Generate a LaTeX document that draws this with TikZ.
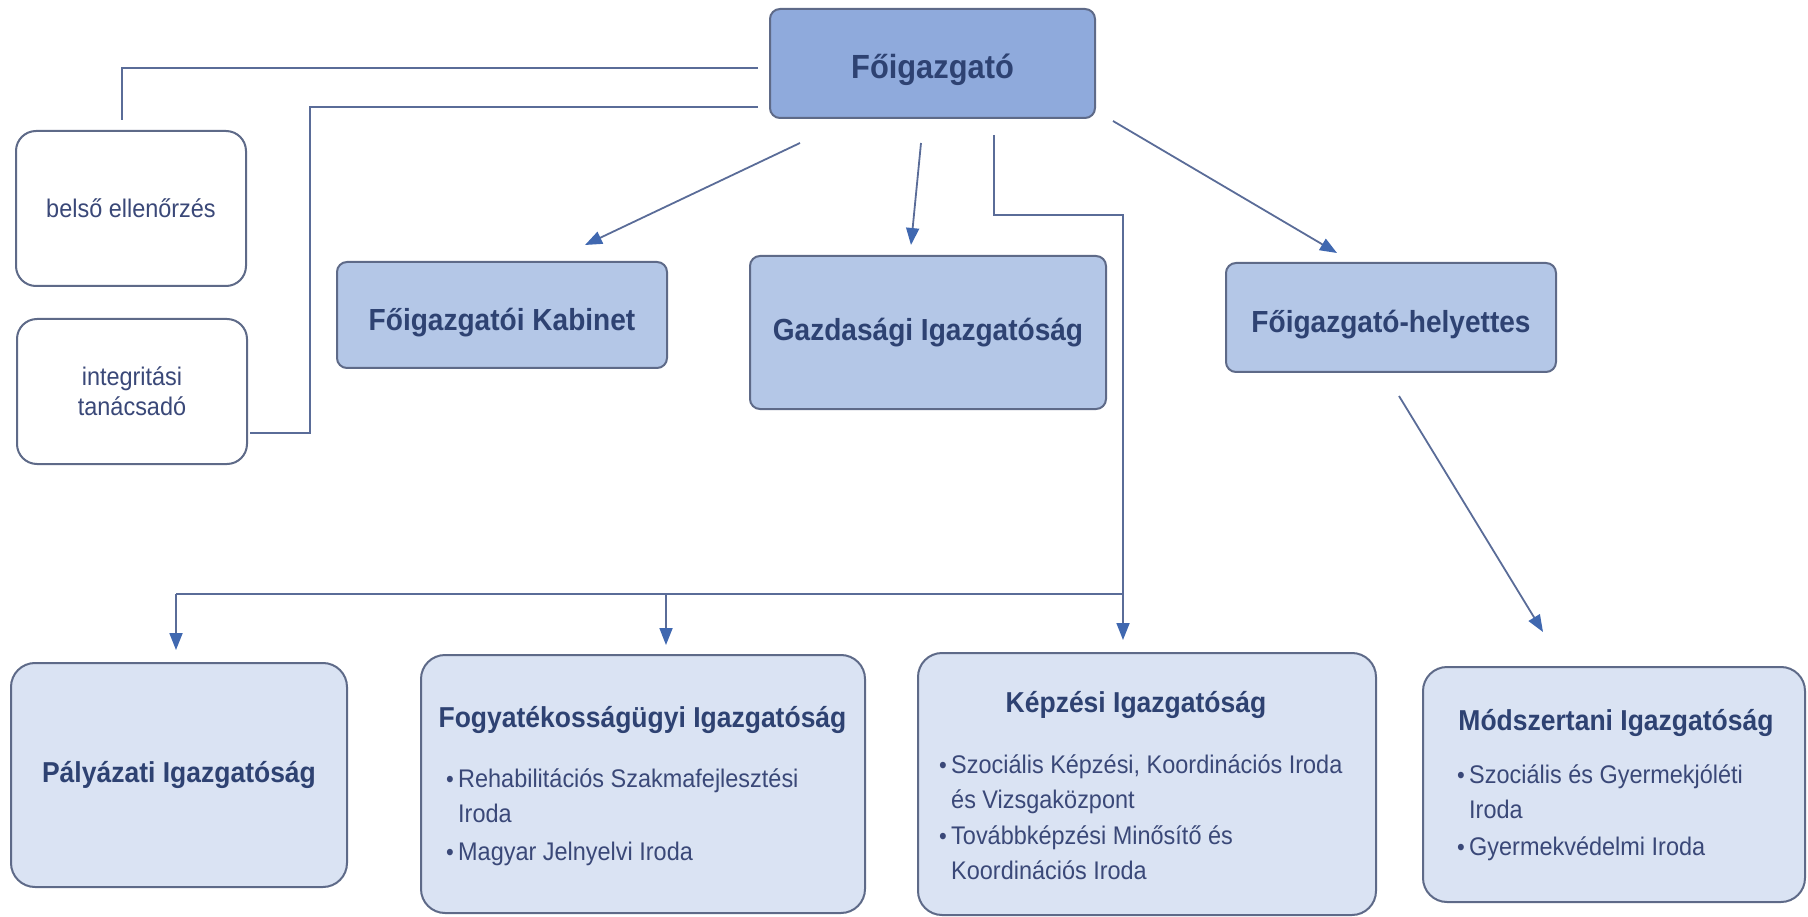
\documentclass[tikz,border=0pt]{standalone}
\usepackage{fontspec}
\setmainfont[FakeStretch=0.92]{Liberation Sans}
\usetikzlibrary{arrows.meta}
\definecolor{topfill}{HTML}{8FAADC}
\definecolor{midfill}{HTML}{B4C7E7}
\definecolor{botfill}{HTML}{DAE3F3}
\definecolor{bordercol}{HTML}{5E6A88}
\definecolor{txt}{HTML}{2E4272}
\definecolor{txtreg}{HTML}{3A4878}
\definecolor{linecol}{HTML}{5A6C98}
\definecolor{tipcol}{HTML}{4068B0}
\tikzset{
  box/.style={draw=bordercol, line width=2pt, inner sep=0pt, text=txt, font=\bfseries\fontsize{30.5}{34}\selectfont},
  topbox/.style={box, fill=topfill, rounded corners=10pt},
  midbox/.style={box, fill=midfill, rounded corners=10pt},
  botbox/.style={box, fill=botfill, rounded corners=24pt, font=\bfseries\fontsize{28.8}{32}\selectfont},
  whitebox/.style={box, fill=white, rounded corners=20pt, text=txtreg, font=\fontsize{25.5}{30}\selectfont, align=center},
  conn/.style={draw=linecol, line width=1.8pt},
  arr/.style={conn, -{Triangle[length=17pt,width=13pt,color=tipcol]}},
  ttl/.style={inner sep=0pt, anchor=base, text=txt, font=\bfseries\fontsize{28.8}{32}\selectfont},
  lst/.style={inner sep=0pt, anchor=base west, text=txtreg, font=\fontsize{25.5}{35}\selectfont},
}
\newcommand{\bul}{\makebox[12pt][l]{\fontsize{24}{35}\selectfont•}}
\begin{document}
\begin{tikzpicture}[x=1pt,y=-1pt]
\useasboundingbox (0,0) rectangle (1808,917);
% top level
\node[topbox, minimum width=325pt, minimum height=109pt, text height=36pt, text depth=6pt, font=\bfseries\fontsize{33.5}{36}\selectfont] (fo) at (932.5,63.5) {Főigazgató};
% staff boxes
\node[whitebox, minimum width=230pt, minimum height=155pt] (bel) at (131,208.5) {belső ellenőrzés};
\node[whitebox, minimum width=230pt, minimum height=145pt] (int) at (132,391.5) {integritási\\tanácsadó};
% second level
\node[midbox, minimum width=330pt, minimum height=106pt, text height=37pt, text depth=6pt] (kab) at (502,315) {Főigazgatói Kabinet};
\node[midbox, minimum width=356pt, minimum height=153pt] (gaz) at (928,332.5) {Gazdasági Igazgatóság};
\node[midbox, minimum width=330pt, minimum height=109pt, text height=37pt, text depth=6pt] (hel) at (1391,317.5) {Főigazgató-helyettes};
% bottom level
\node[botbox, minimum width=336pt, minimum height=224pt] (pal) at (179,775) {Pályázati Igazgatóság};
\node[botbox, minimum width=444pt, minimum height=258pt] (fog) at (643,784) {};
\node[botbox, minimum width=458pt, minimum height=262pt] (kep) at (1147,784) {};
\node[botbox, minimum width=382pt, minimum height=235pt] (mod) at (1614,784.5) {};
% bottom texts
\node[ttl] (fogT) at (642.5,727) {Fogyatékosságügyi Igazgatóság};
\node[lst] (fogL) at (446,787) {\begin{tabular}[t]{@{}l@{}l@{}}\bul&Rehabilitációs Szakmafejlesztési\\&Iroda\\[3pt]\bul&Magyar Jelnyelvi Iroda\end{tabular}};
\node[ttl] (kepT) at (1136,712) {Képzési Igazgatóság};
\node[lst] (kepL) at (939,773) {\begin{tabular}[t]{@{}l@{}l@{}}\bul&Szociális Képzési, Koordinációs Iroda\\&és Vizsgaközpont\\[1pt]\bul&Továbbképzési Minősítő és\\&Koordinációs Iroda\end{tabular}};
\node[ttl] (modT) at (1616,730) {Módszertani Igazgatóság};
\node[lst] (modL) at (1457,783) {\begin{tabular}[t]{@{}l@{}l@{}}\bul&Szociális és Gyermekjóléti\\&Iroda\\[2pt]\bul&Gyermekvédelmi Iroda\end{tabular}};
% connector coordinates
\coordinate (l1a) at (758,68);
\coordinate (l1b) at (122,120);
\coordinate (l2a) at (758,107);
\coordinate (l2b) at (310,433);
\coordinate (l2c) at (250,433);
\coordinate (a1s) at (800,143);
\coordinate (a1e) at (585,245);
\coordinate (a2s) at (921,143);
\coordinate (a2e) at (911,245);
\coordinate (k0) at (994,135);
\coordinate (k1) at (1123,215);
\coordinate (k2) at (1123,640);
\coordinate (hb) at (1123,594);
\coordinate (h1) at (176,594);
\coordinate (h1e) at (176,650);
\coordinate (h2) at (666,594);
\coordinate (h2e) at (666,645);
\coordinate (a3s) at (1113,121);
\coordinate (a3e) at (1337,253);
\coordinate (a4s) at (1399,396);
\coordinate (a4e) at (1543,632);
% connectors
\draw[conn] (l1a) -| (l1b);
\draw[conn] (l2a) -| (l2b) -- (l2c);
\draw[arr] (a1s) -- (a1e);
\draw[arr] (a2s) -- (a2e);
\draw[arr] (k0) |- (k1) -- (k2);
\draw[conn] (hb) -- (h1);
\draw[arr] (h1) -- (h1e);
\draw[arr] (h2) -- (h2e);
\draw[arr] (a3s) -- (a3e);
\draw[arr] (a4s) -- (a4e);
\end{tikzpicture}
\end{document}
